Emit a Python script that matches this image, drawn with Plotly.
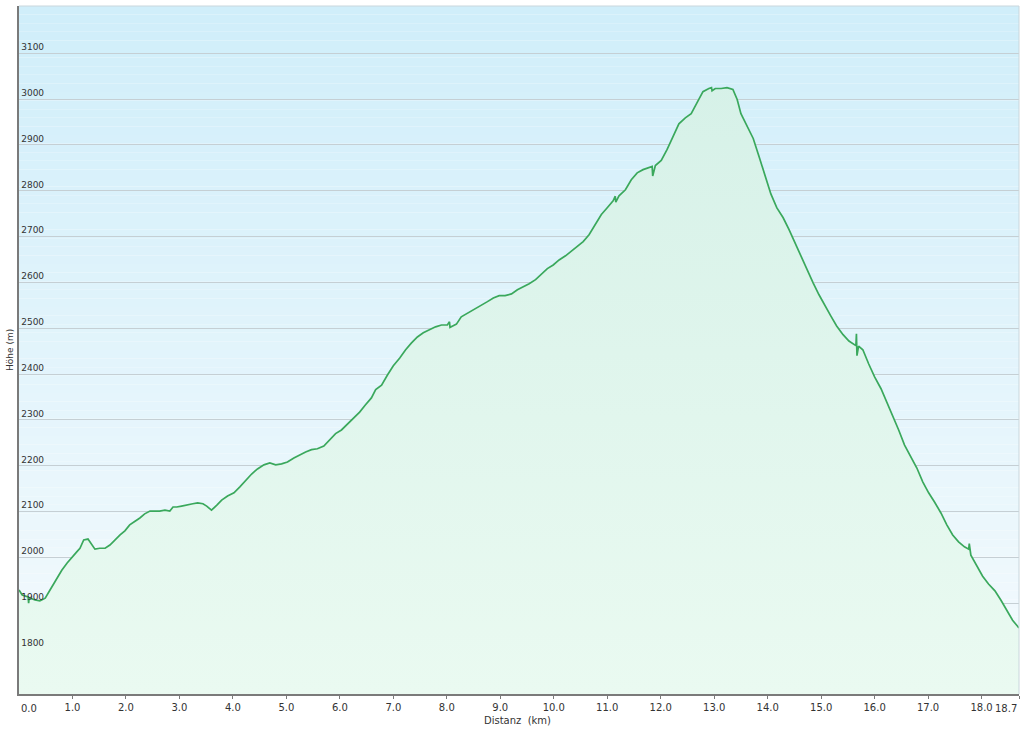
import plotly.graph_objects as go

# Distance along the route (km)
distance_km = [
    0.00, 0.06, 0.17, 0.18, 0.19, 0.30, 0.39, 0.49, 0.58, 0.69, 0.80, 0.90, 0.99, 1.08,
    1.14, 1.21, 1.29, 1.35, 1.42, 1.51, 1.61, 1.70, 1.79, 1.89, 1.98, 2.07, 2.17, 2.26,
    2.35, 2.45, 2.54, 2.63, 2.73, 2.82, 2.88, 2.95, 3.04, 3.16, 3.25, 3.34, 3.44, 3.51,
    3.60, 3.70, 3.79, 3.90, 4.02, 4.13, 4.24, 4.35, 4.46, 4.58, 4.69, 4.80, 4.91, 5.02,
    5.14, 5.25, 5.36, 5.47, 5.58, 5.70, 5.81, 5.92, 6.03, 6.14, 6.26, 6.37, 6.48, 6.59,
    6.67, 6.78, 6.89, 7.00, 7.12, 7.23, 7.34, 7.45, 7.56, 7.68, 7.79, 7.90, 8.01, 8.05,
    8.06, 8.11, 8.18, 8.27, 8.39, 8.52, 8.65, 8.76, 8.87, 8.98, 9.09, 9.21, 9.32, 9.43,
    9.54, 9.66, 9.77, 9.88, 9.99, 10.10, 10.22, 10.33, 10.44, 10.55, 10.66, 10.78, 10.89,
    11.00, 11.11, 11.15, 11.16, 11.22, 11.34, 11.45, 11.56, 11.67, 11.78, 11.84, 11.85,
    11.90, 12.01, 12.12, 12.23, 12.34, 12.46, 12.57, 12.68, 12.79, 12.90, 12.95, 12.96,
    13.02, 13.13, 13.24, 13.35, 13.43, 13.50, 13.61, 13.73, 13.84, 13.95, 14.06, 14.17,
    14.29, 14.40, 14.51, 14.62, 14.73, 14.85, 14.96, 15.07, 15.18, 15.29, 15.41, 15.52,
    15.61, 15.65, 15.66, 15.67, 15.70, 15.78, 15.89, 16.00, 16.12, 16.23, 16.34, 16.45,
    16.56, 16.68, 16.79, 16.90, 17.01, 17.12, 17.24, 17.35, 17.46, 17.57, 17.68, 17.76,
    17.77, 17.80, 17.91, 18.02, 18.13, 18.25, 18.36, 18.47, 18.58, 18.70,
]

# Elevation (m)
elevation_m = [
    1929, 1918, 1914, 1900, 1912, 1907, 1905, 1911, 1929, 1951, 1972, 1988, 1999, 2012,
    2020, 2038, 2040, 2031, 2018, 2020, 2020, 2027, 2038, 2049, 2058, 2071, 2079, 2086,
    2095, 2101, 2101, 2101, 2103, 2101, 2110, 2110, 2112, 2114, 2117, 2119, 2117, 2112,
    2103, 2114, 2125, 2134, 2141, 2154, 2169, 2182, 2193, 2202, 2206, 2202, 2204, 2208,
    2217, 2224, 2230, 2235, 2237, 2243, 2256, 2270, 2278, 2291, 2304, 2317, 2333, 2348,
    2366, 2376, 2398, 2418, 2435, 2453, 2468, 2481, 2490, 2497, 2503, 2507, 2507, 2514,
    2502, 2505, 2509, 2525, 2533, 2542, 2549, 2558, 2566, 2571, 2571, 2575, 2584, 2590,
    2597, 2606, 2619, 2630, 2638, 2649, 2658, 2669, 2680, 2689, 2704, 2726, 2748,
    2763, 2778, 2788, 2775, 2789, 2802, 2824, 2839, 2846, 2850, 2853, 2832,
    2855, 2866, 2890, 2918, 2946, 2959, 2968, 2992, 3016, 3023, 3025, 3018,
    3023, 3023, 3025, 3021, 2999, 2968, 2942, 2914, 2874, 2833, 2793, 2763,
    2741, 2715, 2686, 2656, 2627, 2599, 2573, 2549, 2527, 2505, 2486, 2472,
    2464, 2462, 2488, 2440, 2461, 2453, 2422, 2394, 2368, 2339, 2309, 2278,
    2245, 2219, 2195, 2165, 2141, 2121, 2097, 2071, 2049, 2034, 2023, 2018,
    2030, 2005, 1981, 1959, 1942, 1927, 1907, 1885, 1863, 1846,
]

x_tick_values = [0, 1, 2, 3, 4, 5, 6, 7, 8, 9, 10, 11, 12, 13, 14, 15, 16, 17, 18, 18.7]
x_tick_labels = ["0.0", "1.0", "2.0", "3.0", "4.0", "5.0", "6.0", "7.0", "8.0", "9.0",
                 "10.0", "11.0", "12.0", "13.0", "14.0", "15.0", "16.0", "17.0", "18.0", "18.7"]
y_tick_values = [1800, 1900, 2000, 2100, 2200, 2300, 2400, 2500, 2600, 2700, 2800, 2900, 3000, 3100]

X_RANGE = [0, 18.7]
Y_RANGE = [1702, 3203]
FONT = "DejaVu Sans, Verdana, sans-serif"


def lerp_color(c1, c2, t):
    return "rgb(%d,%d,%d)" % tuple(round(a + (b - a) * t) for a, b in zip(c1, c2))


fig = go.Figure()

fig.add_trace(go.Scatter(
    x=distance_km, y=elevation_m, mode="lines",
    line=dict(color="#3aa85c", width=1.7),
    fill="tozeroy",
    fillgradient=dict(
        type="vertical",
        colorscale=[[0, "rgba(234,250,241,1)"], [1, "rgba(214,241,232,1)"]],
        start=Y_RANGE[0], stop=3050,
    ),
    hoverinfo="skip", showlegend=False,
))

# background vertical gradient (light blue at top to near white at bottom)
top_c = (208, 238, 250)
bot_c = (244, 250, 253)
n = 80
shapes = []
for i in range(n):
    t = i / (n - 1)
    shapes.append(dict(
        type="rect", xref="paper", yref="paper", layer="below",
        x0=0, x1=1, y0=1 - (i + 1) / n, y1=1 - i / n,
        fillcolor=lerp_color(top_c, bot_c, t), line=dict(width=0),
    ))
# light frame on top / right
shapes.append(dict(type="line", xref="paper", yref="paper", x0=0, x1=1, y0=1, y1=1,
                   line=dict(color="#c9d6dc", width=1), layer="above"))
shapes.append(dict(type="line", xref="paper", yref="paper", x0=1, x1=1, y0=0, y1=1,
                   line=dict(color="#c9d6dc", width=1), layer="above"))

annotations = [
    dict(text="Distanz  (km)", xref="paper", yref="paper", x=0.498, y=-0.027,
         yanchor="top", xanchor="center", showarrow=False,
         font=dict(family=FONT, size=10, color="#333333")),
    dict(text="Höhe (m)", xref="paper", yref="paper", x=-0.009, y=0.5,
         xanchor="center", yanchor="middle", textangle=-90, showarrow=False,
         font=dict(family=FONT, size=9, color="#333333")),
    dict(text="0.0", xref="x", yref="paper", x=0, y=-0.01, xanchor="left",
         yanchor="top", showarrow=False, font=dict(family=FONT, size=10, color="#333333")),
    dict(text="18.7", xref="x", yref="paper", x=18.7, y=-0.01, xanchor="right",
         yanchor="top", showarrow=False, font=dict(family=FONT, size=10, color="#333333")),
]

x_labels_axis = ["" if lbl in ("0.0", "18.7") else lbl for lbl in x_tick_labels]

fig.update_layout(
    width=1024, height=732,
    margin=dict(l=19, r=5, t=6, b=38),
    paper_bgcolor="white",
    plot_bgcolor="rgba(0,0,0,0)",
    shapes=shapes,
    annotations=annotations,
    font=dict(family=FONT, size=10, color="#333333"),
    xaxis=dict(
        range=X_RANGE, tickmode="array", tickvals=x_tick_values, ticktext=x_labels_axis,
        showgrid=False, zeroline=False, showline=True, linecolor="#7a7a7a", linewidth=2,
        ticks="outside", ticklen=3, tickcolor="#7a7a7a", tickwidth=1,
        tickfont=dict(family=FONT, size=10, color="#333333"),
    ),
    yaxis=dict(
        range=Y_RANGE, tickmode="array", tickvals=y_tick_values,
        showgrid=True, gridcolor="#c5cfd4", gridwidth=1, zeroline=False,
        showline=True, linecolor="#7a7a7a", linewidth=2,
        ticks="", ticklabelposition="inside top",
        tickfont=dict(family=FONT, size=9, color="#333333"),
    ),
)

fig.write_html("out.html", config={"displayModeBar": False},
               post_script="document.body.style.margin='0';")
